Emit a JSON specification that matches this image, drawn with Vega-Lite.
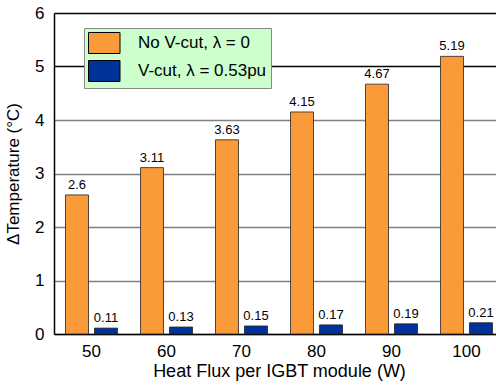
{
  "$schema": "https://vega.github.io/schema/vega-lite/v6.json",
  "autosize": "none",
  "width": 442,
  "height": 321,
  "padding": {"left": 54, "top": 13, "right": 0, "bottom": 53},
  "background": "white",
  "config": {
    "view": {"stroke": null},
    "font": "Liberation Sans"
  },
  "data": {
    "values": [
      {"flux": "50", "series": "No V-cut, λ = 0", "value": 2.6, "label": "2.6"},
      {"flux": "60", "series": "No V-cut, λ = 0", "value": 3.11, "label": "3.11"},
      {"flux": "70", "series": "No V-cut, λ = 0", "value": 3.63, "label": "3.63"},
      {"flux": "80", "series": "No V-cut, λ = 0", "value": 4.15, "label": "4.15"},
      {"flux": "90", "series": "No V-cut, λ = 0", "value": 4.67, "label": "4.67"},
      {"flux": "100", "series": "No V-cut, λ = 0", "value": 5.19, "label": "5.19"},
      {"flux": "50", "series": "V-cut, λ = 0.53pu", "value": 0.11, "label": "0.11"},
      {"flux": "60", "series": "V-cut, λ = 0.53pu", "value": 0.13, "label": "0.13"},
      {"flux": "70", "series": "V-cut, λ = 0.53pu", "value": 0.15, "label": "0.15"},
      {"flux": "80", "series": "V-cut, λ = 0.53pu", "value": 0.17, "label": "0.17"},
      {"flux": "90", "series": "V-cut, λ = 0.53pu", "value": 0.19, "label": "0.19"},
      {"flux": "100", "series": "V-cut, λ = 0.53pu", "value": 0.21, "label": "0.21"}
    ]
  },
  "encoding": {
    "x": {
      "field": "flux", "type": "nominal", "sort": ["50", "60", "70", "80", "90", "100"],
      "scale": {"range": [0, 450], "paddingInner": 0.307, "paddingOuter": 0.1535},
      "axis": {
        "title": "Heat Flux per IGBT module (W)", "titleFontSize": 18, "titleFontWeight": "normal",
        "titleColor": "black", "titlePadding": 3, "titleX": 225,
        "labelAngle": 0, "labelFontSize": 17, "labelColor": "black", "labelPadding": 9,
        "ticks": false, "domainColor": "black", "domainWidth": 1.5, "grid": false
      }
    },
    "xOffset": {
      "field": "series", "type": "nominal",
      "scale": {"paddingInner": 0.207, "paddingOuter": 0}
    },
    "y": {
      "field": "value", "type": "quantitative",
      "scale": {"domain": [0, 6], "nice": false},
      "axis": {
        "title": "ΔTemperature (°C)", "titleFontSize": 17, "titleFontWeight": "normal",
        "titleColor": "black", "titlePadding": 12,
        "values": [0, 1, 2, 3, 4, 5, 6], "labelFontSize": 17, "labelColor": "black", "labelPadding": 10,
        "ticks": false, "domainColor": "black", "domainWidth": 1.5,
        "grid": true,
        "gridColor": {"condition": {"test": "datum.value >= 5", "value": "black"}, "value": "#808080"},
        "gridWidth": 1.3
      }
    }
  },
  "layer": [
    {
      "mark": {"type": "bar", "stroke": "#222222", "strokeWidth": 0.8},
      "encoding": {
        "color": {
          "field": "series", "type": "nominal",
          "scale": {"domain": ["No V-cut, λ = 0", "V-cut, λ = 0.53pu"], "range": ["#FB9A38", "#003399"]},
          "legend": {
            "title": null, "orient": "none", "legendX": 30, "legendY": 15,
            "fillColor": "#CCFFCC", "strokeColor": "#888888", "padding": 4,
            "symbolType": "M-1,-1L2,-1L2,1L-1,1Z", "symbolSize": 441,
            "symbolStrokeColor": "black", "symbolStrokeWidth": 1, "symbolOpacity": 1,
            "labelFontSize": 17, "labelColor": "black", "labelOffset": 28, "rowPadding": 2,
            "labelLimit": 300
          }
        }
      }
    },
    {
      "mark": {"type": "text", "baseline": "bottom", "dy": -3, "fontSize": 13, "color": "black"},
      "encoding": {"text": {"field": "label", "type": "nominal"}}
    }
  ]
}
